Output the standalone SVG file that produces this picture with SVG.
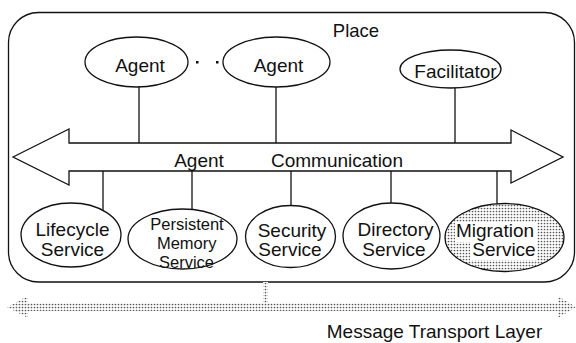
<svg xmlns="http://www.w3.org/2000/svg" width="576" height="343" viewBox="0 0 576 343">
<defs>
<pattern id="stip" width="3" height="3" patternUnits="userSpaceOnUse">
<rect width="3" height="3" fill="#fff"/>
<circle cx="1.5" cy="1.5" r="0.85" fill="#555"/>
</pattern>
<style>
.ln{stroke:#111;stroke-width:1.3;fill:none}
.nd{stroke:#111;stroke-width:1.3;fill:#fff}
text{font-family:"Liberation Sans",Arial,sans-serif;font-size:19px;fill:#111;text-anchor:middle}
.sm{font-size:16.5px}
</style>
</defs>
<rect width="576" height="343" fill="#fff"/>
<g id="place">
<rect x="8.5" y="12.5" width="566" height="269.5" rx="30" ry="30" class="ln"/>
<text x="356" y="37" style="font-size:18.5px">Place</text>
</g>
<g id="transport">
<polygon points="7,307 28,296 28,303 263,303 263,282 268,282 268,303 558,303 558,296 576,307 558,318 558,311 28,311 28,318" fill="url(#stip)"/>
<text x="434.5" y="338">Message Transport Layer</text>
</g>
<g id="connectors">
<line x1="139" y1="87" x2="139" y2="143" class="ln"/>
<line x1="276" y1="87" x2="276" y2="143" class="ln"/>
<line x1="455" y1="88" x2="455" y2="143" class="ln"/>
<line x1="103" y1="171" x2="103" y2="210" class="ln"/>
<line x1="192" y1="171" x2="192" y2="209.5" class="ln"/>
<line x1="291" y1="171" x2="291" y2="205.5" class="ln"/>
<line x1="391" y1="171" x2="391" y2="203" class="ln"/>
<line x1="497" y1="171" x2="497" y2="204" class="ln"/>
</g>
<g id="bus">
<polygon points="13,157 69,129 69,143 511,143 511,130 563,157 511,183 511,171 69,171 69,185" class="nd"/>
<text x="199" y="167">Agent</text>
<text x="337" y="167">Communication</text>
</g>
<g id="agent1">
<ellipse cx="136.5" cy="62" rx="51.5" ry="25" class="nd"/>
<text x="140" y="72">Agent</text>
</g>
<g id="dots">
<rect x="196" y="61" width="2.5" height="2.5" fill="#111"/>
<rect x="216" y="61" width="2.5" height="2.5" fill="#111"/>
</g>
<g id="agent2">
<ellipse cx="276.5" cy="62" rx="53.5" ry="25" class="nd"/>
<text x="278.5" y="72">Agent</text>
</g>
<g id="facilitator">
<ellipse cx="450.5" cy="69" rx="50.5" ry="19" class="nd"/>
<text x="455.5" y="78">Facilitator</text>
</g>
<g id="lifecycle">
<ellipse cx="71" cy="235" rx="50" ry="32" class="nd"/>
<text x="72.5" y="236">Lifecycle</text>
<text x="72.5" y="256">Service</text>
</g>
<g id="persistent">
<ellipse cx="182.5" cy="239" rx="54.5" ry="30" class="nd"/>
<text class="sm" x="187" y="230">Persistent</text>
<text class="sm" x="186.7" y="249">Memory</text>
<text class="sm" x="186.5" y="268">Service</text>
</g>
<g id="security">
<ellipse cx="290.5" cy="236.5" rx="45" ry="31" class="nd"/>
<text x="292" y="237">Security</text>
<text x="290" y="256">Service</text>
</g>
<g id="directory">
<ellipse cx="391.5" cy="236" rx="48.5" ry="33" class="nd"/>
<text x="395.5" y="236">Directory</text>
<text x="394" y="256">Service</text>
</g>
<g id="migration">
<ellipse cx="504.5" cy="237.5" rx="59.5" ry="34" fill="url(#stip)" stroke="#111" stroke-width="1.3"/>
<rect x="455" y="222" width="82" height="20" fill="#fff"/>
<rect x="470" y="242" width="67" height="18" fill="#fff"/>
<text x="495" y="237">Migration</text>
<text x="504" y="256">Service</text>
</g>
</svg>
